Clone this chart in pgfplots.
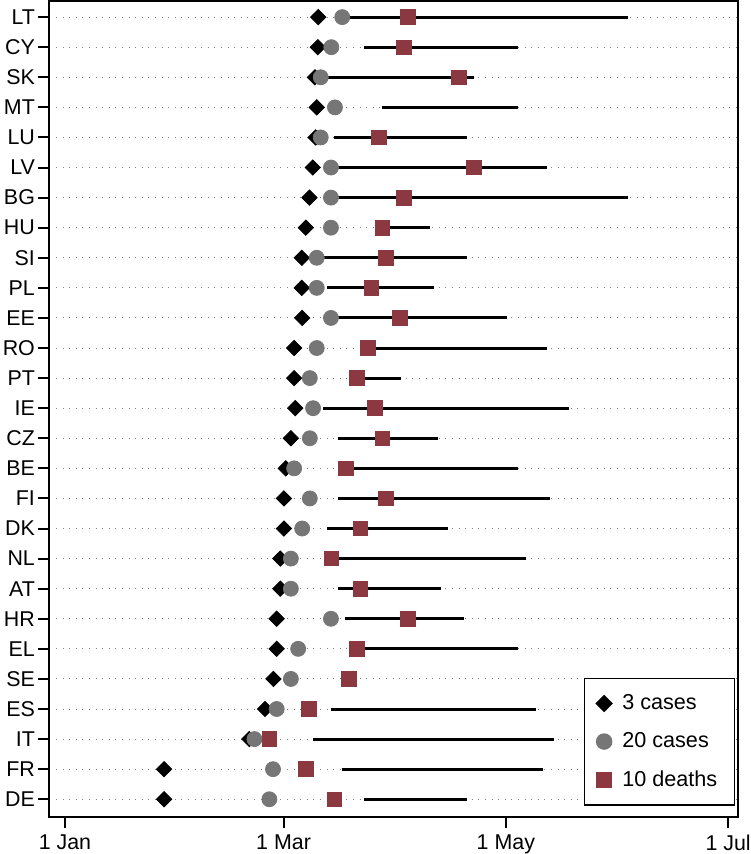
\documentclass[border=0pt]{standalone}
\usepackage{pgfplots}
\pgfplotsset{compat=1.18}
\usepackage{pgfplotstable}
\usepackage{fontspec}
\setmainfont{Liberation Sans}
\definecolor{deathred}{RGB}{140,56,64}
\definecolor{casegray}{RGB}{118,118,118}

% days since 1 Jan: 3 cases, 20 cases, 10 deaths, measure start, measure end
\pgfplotstableread{
y  c3    c20   d10    ls     le
27 69.5  76.1  94.2   76.1   154.4
26 69.4  73.1  93.1   82.1   124.3
25 68.6  70.2  108.1  70.2   112.2
24 69.1  74.1  nan    87.0   124.3
23 68.8  70.2  86.1   73.9   110.3
22 68.0  73.0  112.2  73.0   132.3
21 67.1  73.0  93.1   73.0   154.4
20 66.1  73.0  87.1   87.1   100.3
19 65.0  69.1  88.0   69.1   110.3
18 65.0  69.1  84.1   72.0   101.3
17 65.1  73.0  92.0   73.0   121.4
16 62.9  69.1  83.1   83.1   132.3
15 62.9  67.2  80.1   80.1   92.2
14 63.2  68.1  85.1   70.9   138.2
13 62.0  67.2  87.1   75.0   102.3
12 60.6  62.9  77.1   77.1   124.3
11 60.1  67.2  88.1   75.0   133.2
10 60.1  65.1  81.1   72.0   105.2
9  59.1  62.0  73.1   73.1   126.4
8  59.1  62.0  81.1   75.0   103.3
7  58.1  73.0  94.2   76.9   109.4
6  58.1  64.0  80.1   80.1   124.3
5  57.2  62.0  78.0   nan    nan
4  54.9  58.1  67.0   73.0   129.3
3  50.6  52.0  56.1   68.1   134.3
2  27.2  57.1  66.1   76.1   131.3
1  27.2  56.1  74.0   82.1   110.3
}\tab

\begin{document}
\begin{tikzpicture}
\begin{axis}[
    scale only axis,
    width=344.5pt, height=407.6pt,
    xmin=-4.3, xmax=184.8,
    ymin=0.42, ymax=27.52,
    xtick={0,60,121,182},
    xticklabels={1 Jan,1 Mar,1 May,1 Jul},
    ytick={1,...,27},
    yticklabels={DE,FR,IT,ES,SE,EL,HR,AT,NL,DK,FI,BE,CZ,IE,PT,RO,EE,PL,SI,HU,BG,LV,LU,MT,SK,CY,LT},
    tick pos=left,
    tick align=outside,
    major tick length=5.5pt,
    tick style={black, line width=1pt},
    axis line style={line width=1pt},
    ymajorgrids,
    grid style={gray, line width=0.5pt, dash pattern=on 0.5pt off 2.8pt},
    tick label style={font=\fontsize{10.7}{12}\selectfont},
    yticklabel style={inner xsep=1.5pt},
    unbounded coords=discard,
    legend style={at={(1,0)}, xshift=-1.65pt, yshift=5.35pt,
        anchor=south east, draw=black,
        line width=0.75pt, font=\fontsize{10.8}{13}\selectfont,
        row sep=6pt, inner xsep=5.9pt, inner ysep=6pt,
        nodes={inner xsep=5.3pt}},
    legend cell align=left,
]
% measures in force
\addplot[draw=none, mark=none, forget plot,
    error bars/.cd, x dir=plus, x explicit, error mark=none,
    error bar style={draw=black, solid, line width=1.5pt}]
    table[x=ls, y=y, x error plus expr=\thisrow{le}-\thisrow{ls}] {\tab};
\addplot[only marks, mark=square*, mark size=2.7pt,
    mark options={rotate=45, fill=black, draw=black}]
    table[x=c3, y=y] {\tab};
\addlegendentry{3 cases}
\addplot[only marks, mark=*, mark size=3.75pt,
    mark options={fill=casegray, draw=casegray}]
    table[x=c20, y=y] {\tab};
\addlegendentry{20 cases}
\addplot[only marks, mark=square*, mark size=3.65pt,
    mark options={fill=deathred, draw=deathred}]
    table[x=d10, y=y] {\tab};
\addlegendentry{10 deaths\hspace*{-2.7pt}}
\end{axis}
\pgfresetboundingbox
\path[use as bounding box] ([shift={(-24.65pt,-18.65pt)}]current axis.south west)
    rectangle ([shift={(5.85pt,0.75pt)}]current axis.north east);
\end{tikzpicture}
\end{document}
